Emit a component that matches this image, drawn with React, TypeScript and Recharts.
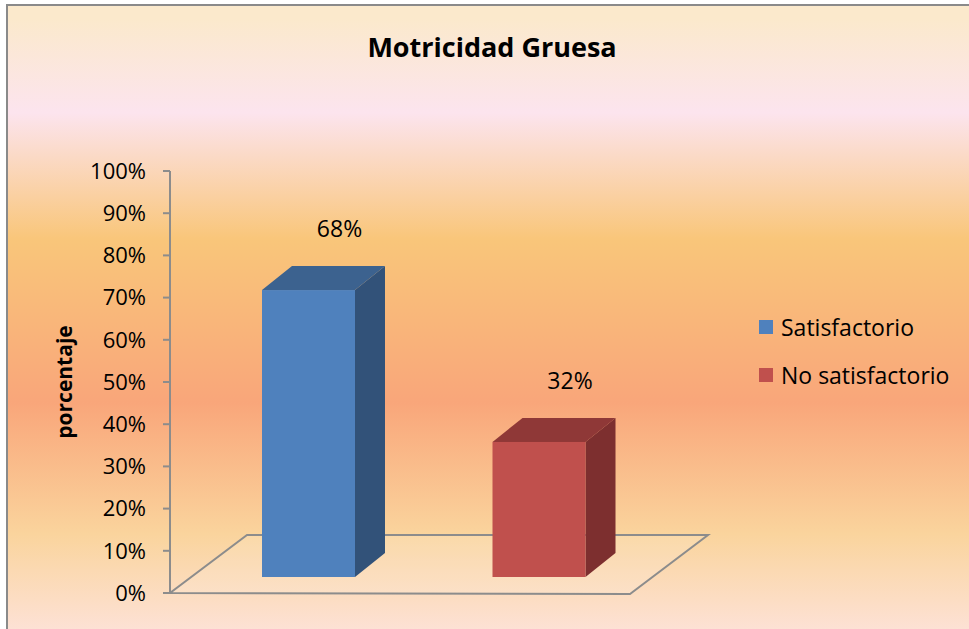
import React from 'react'
import { BarChart, Bar, XAxis, YAxis, Legend, LabelList } from 'recharts'

const categories = ['Satisfactorio', 'No satisfactorio']
const percentages = [0.68, 0.32]
const yTicks = [0, 0.1, 0.2, 0.3, 0.4, 0.5, 0.6, 0.7, 0.8, 0.9, 1]

// one row per category, each category carries its own series so the legend lists both
const data = categories.map((name, i) => ({ name, [name]: percentages[i] }))

const W = 969
const H = 629
const PLOT_LEFT = 170
const PLOT_TOP = 171
const PLOT_BOTTOM = 593
const PLOT_RIGHT = 654
const FONT = '"Open Sans", sans-serif'

// 3d projection offsets (front face lift and depth)
const LIFT = 16
const DX = 30
const DY = 24

const palette: Record<string, { front: string; top: string; side: string }> = {
  Satisfactorio: { front: '#4F81BD', top: '#3C628F', side: '#325279' },
  'No satisfactorio': { front: '#C0504D', top: '#8F3837', side: '#7D2F2F' },
}

function Box3D(props: any) {
  const { x, y, width, height, seriesKey } = props
  if (!height || height <= 0) return null
  const c = palette[seriesKey]
  const fy = y - LIFT
  const by = fy + height
  const top = `${x},${fy} ${x + DX},${fy - DY} ${x + width + DX},${fy - DY} ${x + width},${fy}`
  const side = `${x + width},${fy} ${x + width + DX},${fy - DY} ${x + width + DX},${by - DY} ${x + width},${by}`
  return (
    <g>
      <polygon points={side} fill={c.side} />
      <polygon points={top} fill={c.top} />
      <rect x={x} y={fy} width={width} height={height} fill={c.front} />
    </g>
  )
}

function ValueLabel(props: any) {
  const { x, y, width, value } = props
  if (value == null || typeof value !== 'number') return null
  return (
    <text
      x={x + width / 2 + 31}
      y={y - LIFT - 62}
      textAnchor="middle"
      dominantBaseline="central"
      fontSize={23}
      fontFamily={FONT}
      fill="#000"
    >
      {`${Math.round(value * 100)}%`}
    </text>
  )
}

function LegendContent(props: any) {
  const items = [...(props.payload || [])].sort(
    (a: any, b: any) => categories.indexOf(a.value) - categories.indexOf(b.value)
  )
  return (
    <div style={{ fontFamily: FONT, fontSize: 23, color: '#000' }}>
      {items.map((p: any) => (
        <div key={p.value} style={{ display: 'flex', alignItems: 'center', height: 48 }}>
          <span style={{ width: 14, height: 14, background: p.color, marginRight: 8, display: 'inline-block' }} />
          <span>{p.value}</span>
        </div>
      ))}
    </div>
  )
}

export default function App() {
  const floor = [
    [PLOT_LEFT, PLOT_BOTTOM],
    [630, PLOT_BOTTOM + 1],
    [708, 535],
    [247, 535],
  ]
  return (
    <div style={{ position: 'absolute', left: 0, top: 0, width: W, height: H, overflow: 'hidden' }}>
      <div
        style={{
          position: 'absolute',
          left: 6,
          top: 4,
          width: W,
          height: H,
          borderLeft: '2px solid #8a8a8a',
          borderTop: '2px solid #8a8a8a',
          background:
            'linear-gradient(to bottom, #FBE9CC 2%, #FCE4EE 17%, #F9C67A 37%, #F9A67A 63%, #FAD49D 84%, #FDE2D8 100%)',
        }}
      />
      <svg width={W} height={H} style={{ position: 'absolute', left: 0, top: 0 }}>
        <polygon
          points={floor.map((p) => p.join(',')).join(' ')}
          fill="rgba(255,255,255,0.12)"
          stroke="#8c8c8c"
          strokeWidth={2}
        />
      </svg>
      <div
        style={{
          position: 'absolute',
          left: 0,
          top: 28,
          width: 984,
          textAlign: 'center',
          fontFamily: FONT,
          fontWeight: 700,
          fontSize: 27,
          color: '#000',
        }}
      >
        Motricidad Gruesa
      </div>
      <div style={{ position: 'absolute', left: 0, top: 0 }}>
        <BarChart
          width={W}
          height={H}
          data={data}
          margin={{ top: PLOT_TOP, right: W - PLOT_RIGHT, bottom: H - PLOT_BOTTOM, left: 0 }}
          style={{ fontFamily: FONT }}
        >
          <XAxis dataKey="name" hide padding={{ left: 23, right: 0 }} />
          <YAxis
            width={PLOT_LEFT}
            domain={[0, 1]}
            ticks={yTicks}
            tickFormatter={(v: number) => `${Math.round(v * 100)}%`}
            tick={{ fontSize: 22, fill: '#000', fontFamily: FONT }}
            tickSize={7}
            tickMargin={17}
            axisLine={{ stroke: '#8c8c8c', strokeWidth: 2 }}
            tickLine={{ stroke: '#8c8c8c', strokeWidth: 2 }}
            label={{
              value: 'porcentaje',
              angle: -90,
              position: 'center',
              dx: -20,
              style: { fontSize: 21, fontWeight: 700, fill: '#000', fontFamily: FONT },
            }}
          />
          <Legend
            layout="horizontal"
            align="center"
            verticalAlign="middle"
            content={<LegendContent />}
            wrapperStyle={{ left: 759, top: 303, width: 210 }}
          />
          {categories.map((name) => (
            <Bar
              key={name}
              dataKey={name}
              stackId="a"
              fill={palette[name].front}
              barSize={93}
              shape={(p: any) => <Box3D {...p} seriesKey={name} />}
              isAnimationActive={false}
            >
              <LabelList dataKey={name} content={<ValueLabel />} />
            </Bar>
          ))}
        </BarChart>
      </div>
    </div>
  )
}
